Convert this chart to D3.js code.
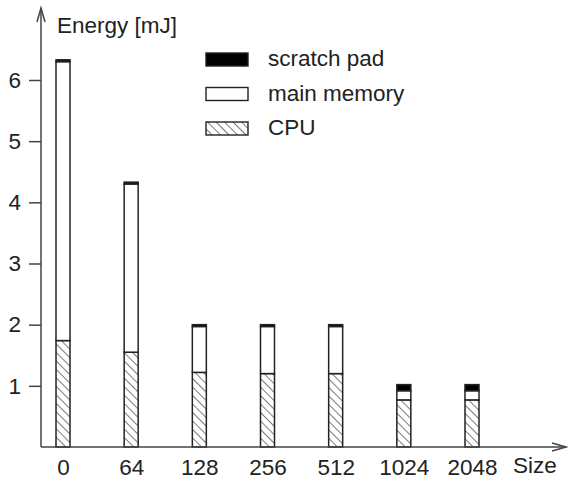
<!DOCTYPE html>
<html><head><meta charset="utf-8">
<script src="https://cdn.jsdelivr.net/npm/d3@7"></script>
<style>body{margin:0;background:#fff}svg{display:block}text{font-family:"Liberation Sans",Arial,Helvetica,sans-serif;fill:#222}</style>
</head><body>
<script>
const categories = ["0","64","128","256","512","1024","2048"];
const cpu = [1.74,1.55,1.22,1.2,1.2,0.77,0.77];
const mainMemory = [4.56,2.75,0.75,0.77,0.77,0.15,0.15];
const scratchPad = [0.03,0.03,0.03,0.03,0.03,0.1,0.1];
const yTicks = [1,2,3,4,5,6];
const seriesNames = ["CPU","main memory","scratch pad"];
const legendOrder = ["scratch pad","main memory","CPU"];

const W=568,H=479, FS=22.5;
const svg=d3.select("body").append("svg").attr("width",W).attr("height",H);
const defs=svg.append("defs");
const pat=defs.append("pattern").attr("id","hatch").attr("patternUnits","userSpaceOnUse")
  .attr("width",6).attr("height",6).attr("patternTransform","rotate(-45)");
pat.append("rect").attr("width",6).attr("height",6).attr("fill","#fff");
pat.append("line").attr("x1",0).attr("y1",0).attr("x2",0).attr("y2",6).attr("stroke","#333").attr("stroke-width",1.3);

const axisX=41, axisY=447;
const y=d3.scaleLinear().domain([0,6]).range([axisY,80]);
const x=d3.scalePoint().domain(categories).range([63,472]);
const bw=14;

const fills={"CPU":"url(#hatch)","main memory":"#fff","scratch pad":"#000"};
const data=categories.map((c,i)=>({cat:c,"CPU":cpu[i],"main memory":mainMemory[i],"scratch pad":scratchPad[i]}));
const stack=d3.stack().keys(seriesNames)(data);

const g=svg.append("g");
stack.forEach(layer=>{
  g.selectAll(null).data(layer).join("rect")
   .attr("x",d=>x(d.data.cat)-bw/2).attr("width",bw)
   .attr("y",d=>y(d[1])).attr("height",d=>y(d[0])-y(d[1]))
   .attr("fill",fills[layer.key]).attr("stroke","#222").attr("stroke-width",1.5);
});

// axes
const ya=svg.append("g").attr("transform",`translate(${axisX},0)`)
  .call(d3.axisLeft(y).tickValues(yTicks).tickSize(12).tickPadding(8).tickFormat(d3.format("d")));
ya.select(".domain").remove();
ya.selectAll(".tick line").attr("stroke","#444").attr("stroke-width",1.5);
ya.selectAll("text").attr("font-size",FS).attr("fill","#222").style("font-family","'Liberation Sans',Arial,sans-serif");

const xa=svg.append("g").attr("transform",`translate(0,${axisY})`)
  .call(d3.axisBottom(x).tickSize(0).tickPadding(12));
xa.select(".domain").remove();
xa.selectAll("text").attr("font-size",FS).attr("fill","#222").style("font-family","'Liberation Sans',Arial,sans-serif");

const ax=svg.append("g").attr("stroke","#444").attr("stroke-width",1.5).attr("fill","none");
ax.append("line").attr("x1",axisX).attr("y1",axisY).attr("x2",axisX).attr("y2",8);
ax.append("path").attr("d",`M${axisX-4},22 L${axisX},8 L${axisX+4},22`);
ax.append("line").attr("x1",axisX).attr("y1",axisY).attr("x2",566).attr("y2",axisY);
ax.append("path").attr("d",`M552,${axisY-4} L566,${axisY} L552,${axisY+4}`);

svg.append("text").attr("x",57).attr("y",33).attr("font-size",FS).text("Energy [mJ]");
svg.append("text").attr("x",513).attr("y",473).attr("font-size",FS).text("Size");

const lg=svg.append("g");
legendOrder.forEach((k,i)=>{
  const yy=53+i*34.5;
  lg.append("rect").attr("x",206).attr("y",yy).attr("width",42).attr("height",13)
    .attr("fill",fills[k]).attr("stroke","#222").attr("stroke-width",1.4);
  lg.append("text").attr("x",268).attr("y",yy+13).attr("font-size",FS).text(k);
});
</script>
</body></html>
